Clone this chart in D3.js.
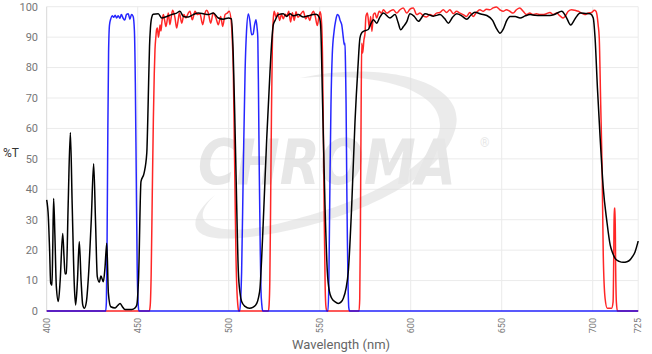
<!DOCTYPE html>
<html><head><meta charset="utf-8">
<script src="https://cdn.jsdelivr.net/npm/d3@7"></script>
<style>
html,body{margin:0;padding:0;background:#fff;}
svg{display:block;font-family:Roboto,"Liberation Sans",Arial,sans-serif;}
</style></head>
<body><svg id="chart" width="652" height="354"></svg>
<script>
const xTicks = [400,450,500,550,600,650,700,725];
const yTicks = [0,10,20,30,40,50,60,70,80,90,100];
const xLabel = "Wavelength (nm)";
const yLabel = "%T";

// Excitation (blue)
const excitation = [[400,0],[432.4,0],[432.8,3],[433.2,25],[433.6,60],[434,85],[434.5,94],[435.2,96],[436,97],[436.8,96.5],[437.6,97.2],[438.4,96.3],[439.3,97],[440.2,96.2],[441,97.4],[442,96.2],[442.9,95.6],[443.8,97.4],[444.8,97.7],[445.7,95.9],[446.6,97.4],[447.5,96.8],[448.2,92],[448.7,75],[449.2,45],[449.7,15],[450.2,3],[450.7,0],[506,0],[506.5,3],[507.1,12.9],[508,45.8],[509,78.7],[509.8,92],[510.8,97.6],[511.6,95.5],[512.6,90.8],[513.4,91],[514.2,94],[515,95.7],[515.6,93],[516,89.7],[516.4,70],[516.8,45.8],[517.3,22],[517.7,7.5],[518.2,2],[518.7,0],[554.5,0],[555,8],[555.4,30],[555.7,45.8],[556.2,68],[556.9,84.2],[557.9,91.9],[558.8,95.5],[559.7,97.4],[560.5,97],[561.2,95.5],[562.1,94.1],[563,89.7],[563.5,87.5],[563.9,88],[564.2,80],[564.5,67.8],[564.9,40],[565.2,23.9],[565.6,8],[566,1],[566.4,0],[725,0]];

// Dichroic (black)
const dichroic = [[400,36.5],[400.9,31],[401.6,20],[402.2,9.1],[402.9,8.5],[403.3,20],[403.8,37],[404.5,25],[405.3,8],[406.4,3.1],[407.4,10],[408.8,25.5],[409.5,18],[410.1,12.2],[410.8,12.3],[411.8,35],[413,58.7],[414,35],[415.2,8],[415.9,2],[416.9,10],[417.9,22.8],[418.9,10],[419.8,2],[420.7,0.9],[421.8,3],[423,12],[424.5,30],[425.8,48.4],[426.8,30],[427.8,11.3],[428.9,9.5],[429.8,11.5],[431.1,9.6],[432,14],[433,22.3],[433.9,5.8],[435.2,1.4],[437.6,1],[439,1.8],[440.3,2.5],[441.5,1.5],[443,0.5],[446.7,0.5],[448.5,1],[449.5,2],[450.5,11.3],[451.8,42.5],[453.5,45.3],[455,52],[455.5,62],[456,75],[456.5,87],[457,93],[457.7,96.5],[458.5,97.5],[461.3,97.7],[463.2,96.3],[466,96.8],[468.7,97.4],[471.4,97.9],[473.2,98.5],[475.1,96.8],[477.8,96.6],[480.5,97.4],[483.3,97.9],[486,97.7],[488.8,97.4],[491.5,97.9],[494.3,96.3],[497,95.9],[499.8,96.3],[501.5,96],[502.5,84],[503.3,65],[504,45.8],[505.3,12.9],[506.2,6],[507.1,3.1],[509,1.5],[511.3,0.9],[513.5,1.3],[515.4,2.5],[516.4,4.5],[517.2,7.5],[518,16],[519,29.4],[520.9,56.8],[522.7,78.7],[523.7,89],[524.5,94],[525.5,95.5],[527.3,97.4],[530,97.7],[531.8,96.8],[533.7,97.7],[535.5,97],[538.2,97.4],[541,96.6],[543.7,97],[546.5,97.4],[548,97.5],[549.8,96.5],[550.5,94],[551.6,67.8],[552.9,34.9],[554.2,12.9],[555.3,6.5],[556.6,4.2],[558.5,3],[560.2,2.5],[561.8,3],[563,4.2],[564.5,7.5],[565.7,12.9],[567.6,34.9],[569.4,62.3],[571,80],[572.1,89.7],[573,91.3],[574,91.9],[576.7,92.5],[578.2,94.5],[579.5,95.7],[581.3,94.6],[583,96.5],[585,97.9],[588.6,96.3],[591.4,97.4],[593,95],[594.5,92.4],[596,93.5],[597.8,95],[599.6,97.7],[602,96.8],[604.2,95.2],[607.9,97.7],[612.4,96.9],[616.1,97.4],[618.5,96.2],[620.7,94.6],[623,96.5],[625.3,97.7],[628,97],[630.8,95.9],[633,97.2],[635.3,98.2],[638.5,97.6],[641.8,97.1],[645,95.5],[647,93],[649.1,91.3],[651,92.8],[652.8,95.5],[654.6,96.8],[657.4,96.8],[660.1,96.3],[663,97],[665.6,97.4],[668.3,97.2],[671,97.1],[674,97.1],[676.5,97.1],[679.5,97.6],[683,98.5],[685.5,96.5],[687.9,94],[690.5,96.2],[693.1,97.9],[696,97.8],[698.6,97.7],[700.3,96.3],[701.3,89.7],[702.6,73.3],[704.1,56.8],[705.8,40.4],[707.8,29.4],[709.6,21.7],[711,19],[712.3,17.3],[714.5,16.3],[716.8,16],[718.8,16.2],[720.5,16.8],[722,18],[723.3,19.5],[724.7,22.3],[725,23]];

// Emission (red)
const emission = [[400,0],[456.4,0],[456.9,2],[457.4,12],[458,38],[458.6,62.8],[459.1,78],[459.5,85.9],[460,90.2],[460.4,92.5],[460.8,93],[461.4,90],[461.9,92],[462.3,94],[462.8,92],[463.3,95],[464.1,97.4],[464.8,95.5],[465.5,93.5],[466.2,95.5],[466.8,97.9],[467.7,94.1],[468.4,96.5],[469.2,98.8],[470.5,96.3],[471.4,93],[472.2,95.5],[472.9,97.9],[474.2,94.6],[475.4,97.4],[476.5,96.3],[477.8,97.9],[478.7,98.5],[480,95.7],[481.5,98.5],[482.7,97.4],[484.2,97.7],[485.7,94.1],[487,97.9],[487.9,98.8],[488.8,97.9],[490.1,94.6],[491.5,97.9],[493,96.3],[494.3,94.1],[495.6,96.8],[496.7,93.5],[498,97.4],[499.2,97.9],[500.3,98.5],[501.6,93.5],[502,88.6],[502.5,80],[503,60],[503.5,38],[504,18],[504.5,7],[505,2],[505.5,0],[521.8,0],[522.2,2],[522.6,10],[523,33],[523.5,65],[524,88],[524.5,96],[525,98.5],[526,96.5],[527,98],[528,95.5],[529,97.5],[530,96],[531,97.5],[532,97],[533,98.5],[534,95],[535,98],[536,95.5],[537,98.3],[538,96.5],[539.5,97.5],[541,98.5],[542.3,96],[543.5,97],[544.5,95.5],[545.5,97.5],[546.5,98.5],[547.5,97],[548.7,93.8],[549.5,96.5],[550.3,98.3],[551,95],[551.5,85],[552,60],[552.5,30],[553,8],[553.5,1],[554,0],[571.6,0],[572,4],[572.4,30],[572.8,70],[573.1,88],[573.6,84.8],[574.3,89.1],[574.9,91.3],[575.4,96.8],[576.2,97.9],[577.3,93],[578,96.8],[578.7,91.9],[579.5,97.4],[580.4,97.9],[581.3,96.3],[582.7,98.5],[584,97.9],[585,99],[586.8,97.9],[588.6,98.5],[590.4,99],[592.3,97.9],[594.1,99],[595.9,99.6],[597.8,97.9],[599.6,99.2],[601.4,99.6],[603.3,97.4],[605.1,97.9],[606.9,97],[608.7,96.6],[610.6,97.4],[612.4,97],[614.2,97.9],[616,98.1],[617.9,99],[619.7,98.1],[621.5,99],[623.4,97.7],[625.2,98.5],[627,97.9],[628.8,97.4],[630.7,96.8],[632.5,98.1],[634.3,96.8],[636.1,98.1],[638,99],[639.8,98.5],[641.6,99.2],[643.5,99],[645.3,99.6],[647.1,99.9],[649,99],[650.8,98.5],[652.6,99],[654.4,98.5],[656.3,97.9],[658.1,99],[659.9,99.6],[661.8,98.5],[663.6,97.4],[665.4,97.9],[667.3,97.4],[669.1,97.7],[670.9,97.4],[672.8,97.4],[674.6,97.7],[676.5,98.1],[678.3,97.4],[680.2,97.9],[682,97],[683.8,96.3],[684.8,96.8],[686.6,98.5],[688.4,99],[690.3,98.8],[692.1,98.5],[693.9,97.9],[695.7,97.4],[697.6,97.9],[699.4,98.1],[700.9,98.8],[701.8,98.5],[702.3,97.5],[703,94],[703.6,89.7],[704.4,67.8],[705.2,45.8],[705.8,18.4],[706.8,4.2],[708,0.9],[710.4,0.9],[711.2,3],[711.6,20],[711.8,33.8],[712.3,33.8],[712.6,15],[713,3],[713.6,0],[725,0]];

const W = 652, H = 354;
const m = {left:46.7, right:W-638.2, top:6.7, bottom:H-311};
const svg = d3.select("#chart");
const x = d3.scaleLinear().domain([400,725]).range([m.left, W-m.right]);
const y = d3.scaleLinear().domain([0,100]).range([H-m.bottom, m.top]);

// grid
const grid = svg.append("g");
grid.selectAll(".h").data(yTicks).enter().append("line")
  .attr("x1", x(400)).attr("x2", x(725))
  .attr("y1", d=>y(d)).attr("y2", d=>y(d))
  .attr("stroke", "#ebebeb").attr("stroke-width", 1);
grid.selectAll(".v").data(xTicks).enter().append("line")
  .attr("x1", d=>x(d)).attr("x2", d=>x(d))
  .attr("y1", y(0)).attr("y2", y(100))
  .attr("stroke", d=> d===400 ? "#d8d8d8" : "#ebebeb").attr("stroke-width", 1);

// watermark
const wm = svg.append("g").attr("opacity", 0.55);
wm.append("path")
  .attr("d", "M 300 78 C 380 60, 470 80, 455 130 C 440 185, 330 230, 240 238 C 180 243, 190 215, 215 195 C 180 228, 225 238, 285 222 C 380 198, 440 160, 440 125 C 440 90, 380 72, 300 78 Z")
  .attr("fill", "#dcdcdc");
wm.append("text").attr("transform", "translate(198,184) scale(1,1.2)")
  .attr("font-family", "'DejaVu Sans', sans-serif")
  .attr("font-style", "italic").attr("font-weight", "bold")
  .attr("font-size", 52).attr("fill", "#d4d4d4")
  .text("CHROMA");
wm.append("text").attr("x", 480).attr("y", 147)
  .attr("font-size", 12).attr("fill", "#d4d4d4").text("®");

// y labels
svg.append("g").selectAll("text").data(yTicks).enter().append("text")
  .attr("x", 38).attr("y", d=>y(d)).attr("dy", "0.35em")
  .attr("text-anchor", "end").attr("font-size", 11).attr("fill", "#777")
  .text(d=>d);

// x labels (rotated)
svg.append("g").selectAll("text").data(xTicks).enter().append("text")
  .attr("transform", d=>`translate(${x(d)},${y(0)+7}) rotate(-90)`)
  .attr("text-anchor", "end").attr("dy", "0.35em")
  .attr("font-size", 9).attr("fill", "#777")
  .text(d=>d);

svg.append("text").attr("x", 341).attr("y", 349).attr("text-anchor", "middle")
  .attr("font-size", 13).attr("fill", "#666").text(xLabel);
svg.append("text").attr("x", 3).attr("y", 157)
  .attr("font-size", 12).attr("fill", "#333").text(yLabel);

const line = d3.line().x(d=>x(d[0])).y(d=>y(d[1])).curve(d3.curveMonotoneX);
svg.append("path").datum(emission).attr("d", line)
  .attr("fill", "none").attr("stroke", "#ff0000").attr("stroke-width", 1.5).attr("stroke-opacity", 0.85);
svg.append("path").datum(excitation).attr("d", line)
  .attr("fill", "none").attr("stroke", "#0000ff").attr("stroke-width", 1.5).attr("stroke-opacity", 0.85);
svg.append("path").datum(dichroic).attr("d", line)
  .attr("fill", "none").attr("stroke", "#000").attr("stroke-width", 1.5);
</script></body></html>
